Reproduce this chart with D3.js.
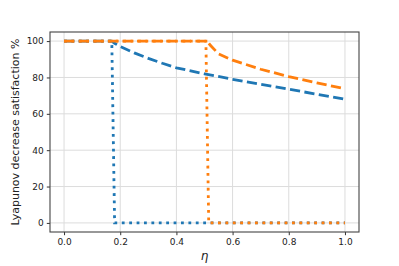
<!DOCTYPE html>
<html>
<head>
<meta charset="utf-8">
<script src="https://cdn.jsdelivr.net/npm/d3@7"></script>
<style>
body { margin: 0; background: #fff; }
svg { display: block; font-family: "DejaVu Sans", sans-serif; }
</style>
</head>
<body>
<svg width="399" height="266"></svg>
<script>
// values
const blueDashEta = [0, 0.17, 0.18, 0.2, 0.25, 0.3, 0.35, 0.4, 0.5, 0.6, 0.7, 0.8, 0.9, 1.0];
const blueDashVal = [100, 100, 98.8, 97, 93.5, 90.5, 87.8, 85.3, 82, 79, 76.2, 73.5, 70.8, 68];
const blueDotEta = [0, 0.17, 0.18, 1.0];
const blueDotVal = [100, 100, 0, 0];
const orangeDashEta = [0, 0.51, 0.52, 0.55, 0.6, 0.7, 0.8, 0.9, 1.0];
const orangeDashVal = [100, 100, 97.8, 93, 89.5, 84.5, 80.5, 77, 73.8];
const orangeDotEta = [0, 0.505, 0.515, 1.0];
const orangeDotVal = [100, 100, 0, 0];
const xTicks = [0, 0.2, 0.4, 0.6, 0.8, 1.0];
const yTicks = [0, 20, 40, 60, 80, 100];

const margin = { top: 32, right: 40, bottom: 34, left: 50 };
const width = 399 - margin.left - margin.right;
const height = 266 - margin.top - margin.bottom;

const svg = d3.select("svg");
const g = svg.append("g")
    .attr("transform", `translate(${margin.left}, ${margin.top})`);

const x = d3.scaleLinear().domain([-0.05, 1.05]).range([0, width]);
const y = d3.scaleLinear().domain([-5, 105]).range([height, 0]);

// grid
g.append("g").selectAll("line").data(xTicks).enter().append("line")
    .attr("x1", d => x(d)).attr("x2", d => x(d))
    .attr("y1", 0).attr("y2", height)
    .attr("stroke", "#dcdcdc").attr("stroke-width", 1);
g.append("g").selectAll("line").data(yTicks).enter().append("line")
    .attr("y1", d => y(d)).attr("y2", d => y(d))
    .attr("x1", 0).attr("x2", width)
    .attr("stroke", "#dcdcdc").attr("stroke-width", 1);

const line = d3.line().x(d => x(d[0])).y(d => y(d[1]));
const series = [
    { eta: blueDashEta, val: blueDashVal, color: "#1f77b4", dash: "10.2,4.4" },
    { eta: blueDotEta, val: blueDotVal, color: "#1f77b4", dash: "2.8,4.6" },
    { eta: orangeDashEta, val: orangeDashVal, color: "#ff7f0e", dash: "10.2,4.4" },
    { eta: orangeDotEta, val: orangeDotVal, color: "#ff7f0e", dash: "2.8,4.6" }
];
g.selectAll(".series")
    .data(series)
    .enter().append("path")
    .attr("class", "series")
    .attr("d", s => line(s.eta.map((e, i) => [e, s.val[i]])))
    .attr("fill", "none")
    .attr("stroke", s => s.color)
    .attr("stroke-width", 2.8)
    .attr("stroke-dasharray", s => s.dash);

// axes
const xAxis = g.append("g")
    .attr("transform", `translate(0, ${height})`)
    .call(d3.axisBottom(x).tickValues(xTicks).tickFormat(d3.format(".1f")).tickSize(3.2).tickPadding(3));
const yAxis = g.append("g")
    .call(d3.axisLeft(y).tickValues(yTicks).tickSize(3.2).tickPadding(3));
[xAxis, yAxis].forEach(a => {
    a.select(".domain").remove();
    a.selectAll("line").attr("stroke", "#333");
    a.selectAll("text").attr("font-size", 9).attr("fill", "#222")
        .attr("font-family", "DejaVu Sans");
});

g.append("rect")
    .attr("width", width).attr("height", height)
    .attr("fill", "none").attr("stroke", "#444").attr("stroke-width", 1.1);

svg.append("text")
    .attr("transform", `translate(19, ${margin.top + height / 2}) rotate(-90)`)
    .attr("text-anchor", "middle")
    .attr("font-size", 11)
    .attr("fill", "#222")
    .text("Lyapunov decrease satisfaction %");

svg.append("text")
    .attr("x", margin.left + x(0.5))
    .attr("y", 260)
    .attr("text-anchor", "middle")
    .attr("font-size", 12)
    .attr("font-style", "italic")
    .attr("fill", "#222")
    .text("η");
</script>
</body>
</html>
